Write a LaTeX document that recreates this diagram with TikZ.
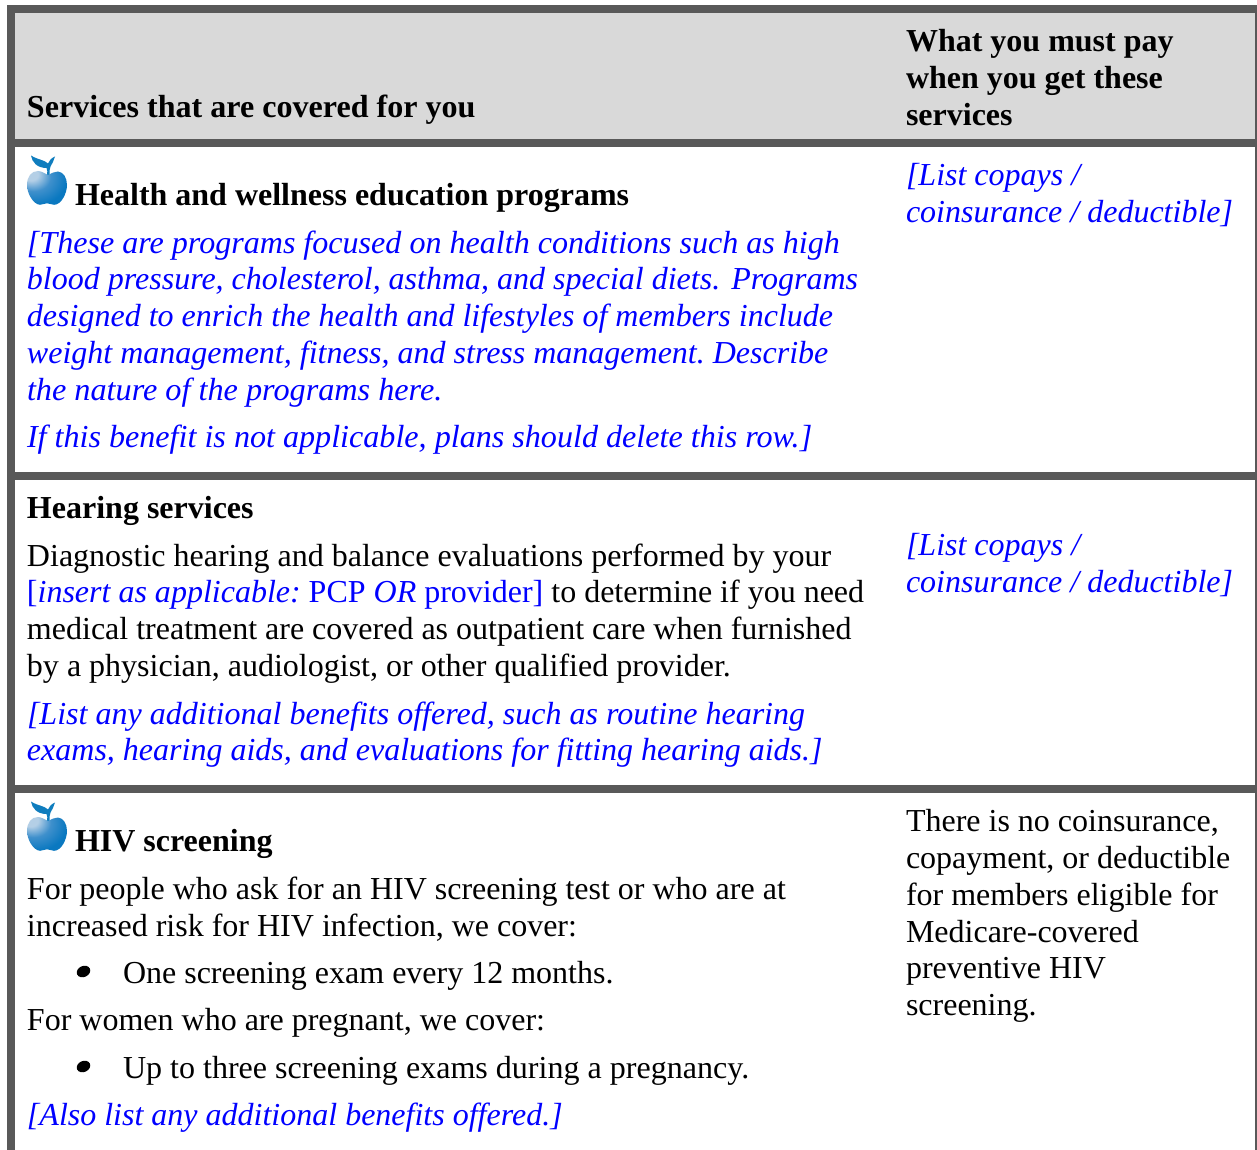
\documentclass[tikz,border=0pt]{standalone}
\usepackage{fontspec}
\setmainfont{Liberation Serif}
\frenchspacing
\definecolor{rule}{HTML}{595959}
\definecolor{head}{HTML}{D9D9D9}
\definecolor{plan}{HTML}{0000FF}
\definecolor{appleblue}{HTML}{0A78C0}
\definecolor{applelight}{HTML}{B4CFE6}
\definecolor{applemid}{HTML}{3F90CC}
\definecolor{leafblue}{HTML}{0F7DBE}
\pgfdeclareradialshading{applesh}{\pgfpoint{-22bp}{22bp}}{%
  color(0bp)=(applelight); color(9bp)=(applelight); color(22bp)=(applemid); color(38bp)=(appleblue); color(100bp)=(appleblue)}
\tikzset{
  line/.style={anchor=base west,inner sep=0pt,outer sep=0pt,font=\fontsize{32}{36}\selectfont},
  bold/.style={line,font=\fontsize{32}{36}\selectfont\bfseries},
  ins/.style={line,text=plan,font=\fontsize{32}{36}\selectfont\itshape},
  bar/.style={fill=rule,draw=none},
  widen/.style={transform shape,xscale=#1}
}
\newcommand{\apple}[2]{%
  \begin{scope}[shift={(#1,#2)}]
    % leaves and stem
    \fill[leafblue] (4,0.5) .. controls (5,7) and (10,13) .. (19.5,13)
      .. controls (20.5,15) and (20.5,17) .. (20,20) -- (22.5,20)
      .. controls (22.5,16) and (22.5,14) .. (23.5,11.5)
      .. controls (25.5,8) and (27,5) .. (28,1.5)
      .. controls (24.5,3) and (22,5.5) .. (21,8.5)
      .. controls (17,4.5) and (11,5) .. (4,0.5) -- cycle;
    % body
    \shade[shading=applesh]
      (21,20) .. controls (25,18) and (28,16.5) .. (31,16.5)
      .. controls (36.5,17) and (40,23) .. (40,30)
      .. controls (40,38) and (34.5,49.8) .. (27,49.8)
      .. controls (24.5,49.8) and (23,48.3) .. (20,48.3)
      .. controls (17,48.3) and (15.5,49.8) .. (13,49.8)
      .. controls (6,49.3) and (0,38) .. (0,30)
      .. controls (0,22) and (4,16) .. (11,16)
      .. controls (14,16) and (18,18.5) .. (21,20) -- cycle;
  \end{scope}}
\begin{document}
\begin{tikzpicture}[x=1pt,y=-1pt]
\useasboundingbox (0,0) rectangle (1257,1150);
\fill[white] (0,0) rectangle (1257,1150);
\fill[head] (15,13) rectangle (1255,139);
\fill[bar] (7,5) rectangle (1257,13);
\fill[bar] (7,5) rectangle (15,1150);
\fill[bar] (1255,5) rectangle (1257,1150);
\fill[bar] (7,139) rectangle (1257,147);
\fill[bar] (7,472) rectangle (1257,480);
\fill[bar] (7,785) rectangle (1257,793);
\apple{27}{155}
\apple{27}{801}
\node[bold,widen=1.002] (h1) at (27,118) {Services that are covered for you};
\node[bold] (h2a) at (906,52) {What you must pay};
\node[bold] (h2b) at (906,89) {when you get these};
\node[bold] (h2c) at (906,126) {services};
\node[bold] (t1) at (75,206) {Health and wellness education programs};
\node[ins,widen=1.0025] (a1) at (27,254) {[These are programs focused on health conditions such as high};
\node[ins] (a2) at (27,289) {blood pressure, cholesterol, asthma, and special diets.\hspace{3pt} Programs};
\node[ins] (a3) at (27,326) {designed to enrich the health and lifestyles of members include};
\node[ins] (a4) at (27,363) {weight management, fitness, and stress management. Describe};
\node[ins,widen=1.0073] (a5) at (27,400) {the nature of the programs here.};
\node[ins,widen=1.0038] (a6) at (27,447) {If this benefit is not applicable, plans should delete this row.]};
\node[ins] (p1a) at (906,186) {[List copays /};
\node[ins] (p1b) at (906,223) {coinsurance / deductible]};
\node[bold] (t2) at (27,518) {Hearing services};
\node[line] (b1) at (27,566) {Diagnostic hearing and balance evaluations performed by your};
\node[line] (b2) at (27,602) {\textcolor{plan}{[\textit{insert as applicable:} PCP \textit{OR} provider]} to determine if you need};
\node[line] (b3) at (27,639) {medical treatment are covered as outpatient care when furnished};
\node[line] (b4) at (27,676) {by a physician, audiologist, or other qualified provider.};
\node[ins,widen=1.0013] (b5) at (27,724) {[List any additional benefits offered, such as routine hearing};
\node[ins] (b6) at (27,760) {exams, hearing aids, and evaluations for fitting hearing aids.]};
\node[ins] (p2a) at (906,555) {[List copays /};
\node[ins] (p2b) at (906,592) {coinsurance / deductible]};
\node[bold] (t3) at (75,851) {HIV screening};
\node[line] (c1) at (27,899) {For people who ask for an HIV screening test or who are at};
\node[line] (c2) at (27,936) {increased risk for HIV infection, we cover:};
\fill[black] (83.5,971.5) ellipse [x radius=7,y radius=5.5,rotate=25];
\node[line] (c3) at (123,983) {One screening exam every 12 months.};
\node[line] (c4) at (27,1030) {For women who are pregnant, we cover:};
\fill[black] (83.5,1066.5) ellipse [x radius=7,y radius=5.5,rotate=25];
\node[line,widen=1.0015] (c5) at (123,1078) {Up to three screening exams during a pregnancy.};
\node[ins] (c6) at (27,1125) {[Also list any additional benefits offered.]};
\node[line] (p3a) at (906,831) {There is no coinsurance,};
\node[line] (p3b) at (906,868) {copayment, or deductible};
\node[line] (p3c) at (906,905) {for members eligible for};
\node[line] (p3d) at (906,942) {Medicare-covered};
\node[line] (p3e) at (906,978) {preventive HIV};
\node[line] (p3f) at (906,1015) {screening.};
\end{tikzpicture}
\end{document}
